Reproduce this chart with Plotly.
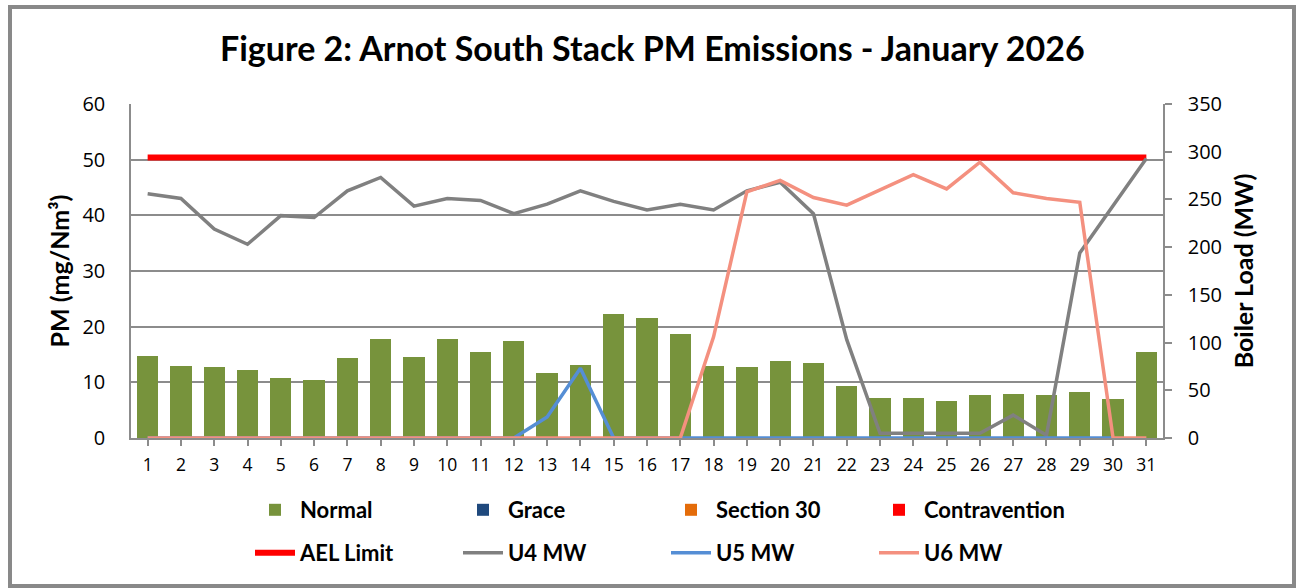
import plotly.graph_objects as go

days = ["1", "2", "3", "4", "5", "6", "7", "8", "9", "10", "11", "12", "13", "14", "15", "16",
        "17", "18", "19", "20", "21", "22", "23", "24", "25", "26", "27", "28", "29", "30", "31"]
x_pos = [1, 2, 3, 4, 5, 6, 7, 8, 9, 10, 11, 12, 13, 14, 15, 16,
         17, 18, 19, 20, 21, 22, 23, 24, 25, 26, 27, 28, 29, 30, 31]

normal = [14.7, 12.9, 12.7, 12.3, 10.7, 10.4, 14.3, 17.7, 14.6, 17.7, 15.5, 17.5, 11.7, 13.2, 22.2, 21.6,
          18.6, 12.9, 12.75, 13.8, 13.5, 9.4, 7.2, 7.2, 6.6, 7.8, 7.9, 7.7, 8.3, 6.95, 15.4]
grace = [0] * 31
section30 = [0] * 31
contravention = [0] * 31
ael_limit = [50.4] * 31

u4_mw = [256, 251, 219, 203, 233, 231, 259, 273, 243, 251, 249, 235, 245, 259, 248, 239,
         245, 239, 259, 268, 235, 103, 5, 5, 5, 5, 24, 3, 194, 243, 293]
u5_mw = [0, 0, 0, 0, 0, 0, 0, 0, 0, 0, 0, 0, 22, 73, 0, 0,
         0, 0, 0, 0, 0, 0, 0, 0, 0, 0, 0, 0, 0, 0, None]
u6_mw = [0, 0, 0, 0, 0, 0, 0, 0, 0, 0, 0, 0, 0, 0, 0, 0,
         0, 106, 258, 270, 252, 244, 260, 276, 261, 289, 257, 251, 247, 0, 0]

GREEN = "#77933C"
GRID = "#8C8C8C"
FONT_BOLD = "Lato"
FONT_NUM = "Open Sans"

fig = go.Figure()

bar_series = [("Normal", normal, GREEN), ("Grace", grace, "#1F497D"),
              ("Section 30", section30, "#E46C0A"), ("Contravention", contravention, "#FF0000")]
for name, vals, col in bar_series:
    fig.add_trace(go.Bar(x=x_pos, y=vals, name=name, marker=dict(color=col, line=dict(width=0)),
                         legend="legend", yaxis="y"))

fig.add_trace(go.Scatter(x=x_pos, y=ael_limit, name="AEL Limit", mode="lines",
                         line=dict(color="#FF0000", width=6), legend="legend2", yaxis="y",
                         cliponaxis=False))
line_series = [("U4 MW", u4_mw, "#808080"), ("U5 MW", u5_mw, "#558ED5"), ("U6 MW", u6_mw, "#F4907F")]
for name, vals, col in line_series:
    fig.add_trace(go.Scatter(x=x_pos, y=vals, name=name, mode="lines",
                             line=dict(color=col, width=3.5), legend="legend2", yaxis="y2",
                             cliponaxis=False))

L, R, T, B = 131, 139, 104, 150
W, H = 1302, 588
pw, ph = W - L - R, H - T - B

def px_x(p):
    return (p - L) / pw

def px_y(p):
    return (H - B - p) / ph

legend_common = dict(orientation="h", xanchor="left", yanchor="middle",
                     entrywidth=153, entrywidthmode="pixels", itemwidth=40,
                     font=dict(family=FONT_BOLD, size=22, color="#000000", weight="bold"),
                     bgcolor="rgba(0,0,0,0)", traceorder="normal")

fig.update_layout(
    width=W, height=H,
    margin=dict(l=L, r=R, t=T, b=B, autoexpand=False),
    paper_bgcolor="white", plot_bgcolor="white",
    barmode="stack", bargap=0.36,
    font=dict(family=FONT_NUM, color="#000000"),
    title=dict(text="<b>Figure 2: Arnot South Stack PM Emissions - January 2026</b>",
               font=dict(family=FONT_BOLD, size=34, color="#000000"),
               x=0.501, xref="container", xanchor="center",
               y=1 - 49 / H, yref="container", yanchor="middle"),
    xaxis=dict(range=[0.5, 31.5], tickvals=x_pos, ticktext=days, showgrid=False,
               showline=True, linecolor=GRID, linewidth=1.5,
               ticks="outside", ticklen=6, tickcolor=GRID, tickwidth=1.5,
               tickfont=dict(size=17.5, family=FONT_NUM), ticklabelstandoff=4, zeroline=False),
    yaxis=dict(range=[0, 60], dtick=10, showgrid=True, gridcolor=GRID, gridwidth=1.5,
               showline=True, linecolor=GRID, linewidth=1.5, zeroline=False,
               tickfont=dict(size=20, family=FONT_NUM), ticklabelstandoff=20,
               title=dict(text="<b>PM (mg/Nm³)</b>", font=dict(family=FONT_BOLD, size=25),
                          standoff=6)),
    yaxis2=dict(range=[0, 350], dtick=50, overlaying="y", side="right", showgrid=False,
                showline=True, linecolor=GRID, linewidth=1.5, zeroline=False,
                ticks="outside", ticklen=7, tickcolor=GRID, tickwidth=1.5,
                tickfont=dict(size=20, family=FONT_NUM), ticklabelstandoff=12,
                title=dict(text="<b>Boiler Load (MW)</b>", font=dict(family=FONT_BOLD, size=25),
                           standoff=14)),
    legend=dict(x=px_x(250), y=px_y(510), **legend_common),
    legend2=dict(x=px_x(250), y=px_y(553), **legend_common),
    showlegend=True,
    shapes=[dict(type="rect", xref="paper", yref="paper",
                 x0=px_x(10), x1=px_x(1294), y0=px_y(586), y1=px_y(7),
                 line=dict(color="#898989", width=4), fillcolor="rgba(0,0,0,0)", layer="above")],
)

fig.write_html("out.html", config={"displayModeBar": False},
               post_script="document.body.style.margin='0';document.body.style.overflow='hidden';")
